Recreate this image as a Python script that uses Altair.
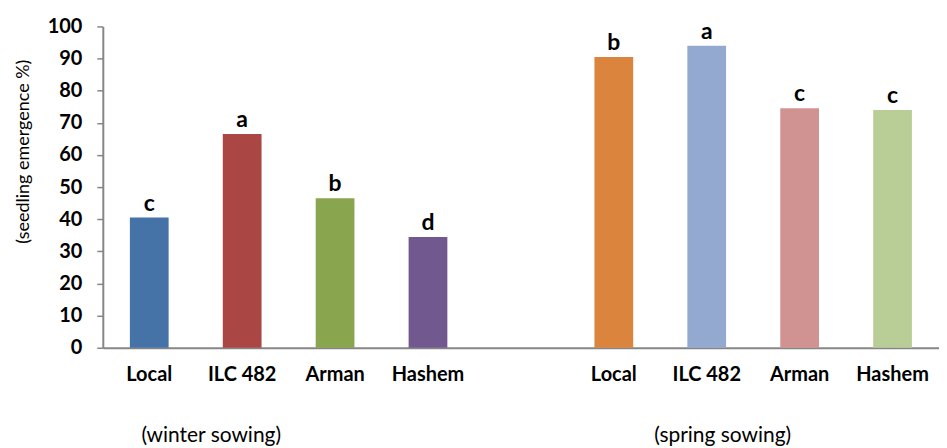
import altair as alt
import pandas as pd

varieties = ["Local", "ILC 482", "Arman", "Hashem"]
winter_values = [40.5, 66.5, 46.5, 34.5]
spring_values = [90.5, 94.0, 74.5, 74.0]
winter_letters = ["c", "a", "b", "d"]
spring_letters = ["b", "a", "c", "c"]
winter_colors = ["#4572A7", "#AA4643", "#89A54E", "#71588F"]
spring_colors = ["#DB843D", "#93A9CF", "#D19392", "#B9CD96"]
y_ticks = [0, 10, 20, 30, 40, 50, 60, 70, 80, 90, 100]

winter_keys = [v + "|w" for v in varieties]
spring_keys = [v + "|s" for v in varieties]
domain = winter_keys + [" "] + spring_keys

df = pd.DataFrame({
    "key": winter_keys + spring_keys,
    "value": winter_values + spring_values,
    "letter": winter_letters + spring_letters,
})

FONT = "Lato"
W, H = 838, 322

x_axis = alt.Axis(title=None, labelExpr="split(datum.label, '|')[0]", labelAngle=0,
                  ticks=False, tickSize=0, labelPadding=17, labelFont=FONT,
                  labelFontSize=20, labelFontWeight="bold", labelColor="black",
                  labelOverlap=False, domainColor="#868686", domainWidth=2)
x_scale = alt.Scale(domain=domain, paddingInner=0.583, paddingOuter=0.2915)
y_axis = alt.Axis(values=y_ticks, title="(seedling emergence %)", grid=False,
                  tickColor="#868686", tickSize=6, tickWidth=1.5,
                  domainColor="#868686", domainWidth=2, labelPadding=15,
                  labelOverlap=False,
                  labelFont=FONT, labelFontSize=20, labelFontWeight="bold",
                  labelColor="black", titleFont=FONT, titleFontSize=18,
                  titleFontWeight="normal", titleColor="black",
                  titleX=-79, titleY=125, titleAngle=-90,
                  titleAlign="center", titleBaseline="middle")
y_scale = alt.Scale(domain=[0, 100], nice=False)

x = alt.X("key:N", scale=x_scale, axis=x_axis)
y = alt.Y("value:Q", scale=y_scale, axis=y_axis)

bars = alt.Chart(df).mark_bar().encode(
    x=x, y=y,
    color=alt.Color("key:N", scale=alt.Scale(domain=winter_keys + spring_keys,
                                             range=winter_colors + spring_colors), legend=None),
)
letters = alt.Chart(df).mark_text(baseline="bottom", dy=-2, font=FONT, fontSize=23,
                                  fontWeight="bold", color="black").encode(
    x=x, y=y, text="letter:N")

season_df = pd.DataFrame({"anchor": ["ILC 482|w"], "label": ["(winter sowing)"]})
season_df2 = pd.DataFrame({"anchor": ["ILC 482|s"], "label": ["(spring sowing)"]})
s1 = alt.Chart(season_df).mark_text(dx=-31, font=FONT, fontSize=21, color="black",
                                    baseline="middle").encode(
    x=alt.X("anchor:N", scale=x_scale, axis=x_axis), y=alt.value(H + 88), text="label:N")
s2 = alt.Chart(season_df2).mark_text(dx=16, font=FONT, fontSize=21, color="black",
                                     baseline="middle").encode(
    x=alt.X("anchor:N", scale=x_scale, axis=x_axis), y=alt.value(H + 88), text="label:N")

chart = alt.layer(bars, letters, s1, s2).properties(
    width=W, height=H,
    autosize=alt.AutoSizeParams(type="none"),
    padding={"left": 95, "top": 18, "right": 0, "bottom": 100},
).configure_view(stroke=None)

chart.save("out.html", embed_options={"renderer": "svg", "actions": False})
